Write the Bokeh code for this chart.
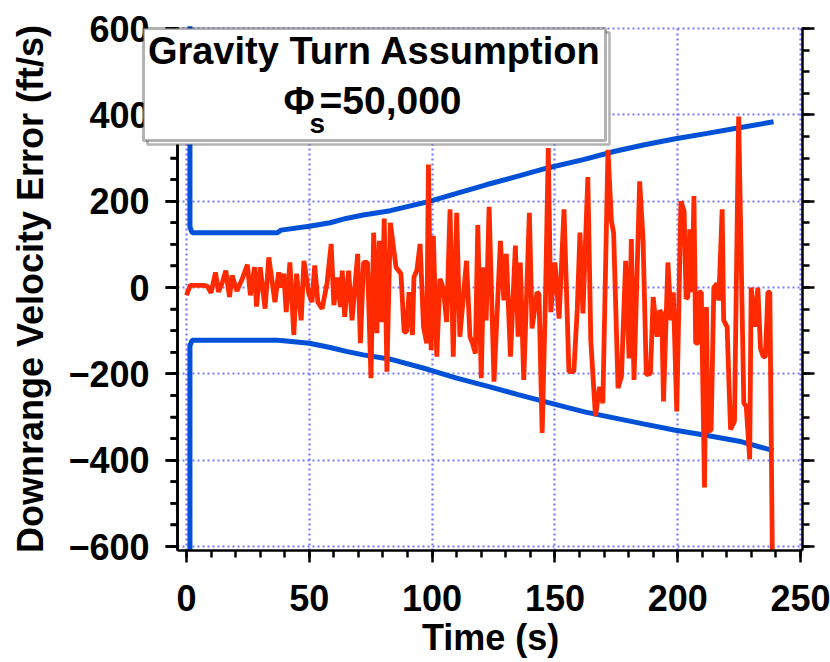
from bokeh.plotting import figure
from bokeh.models import Range1d, LinearAxis, FixedTicker, Label, BoxAnnotation, CustomJSTickFormatter
from bokeh.embed import file_html
from bokeh.resources import INLINE

# ---- data ----
x_ticks = [0, 50, 100, 150, 200, 250]
y_ticks = [-600, -400, -200, 0, 200, 400, 600]
y_minor = [v for v in range(-600, 601, 50) if v not in y_ticks]

time_upper = [1.4, 1.4, 2.3, 37, 38.5, 50, 58.5, 65, 72, 83, 98.5, 110, 122, 135, 147, 162, 174, 186, 198.5, 212, 225, 239]
upper = [605, 140, 127, 127, 133, 142, 150, 160, 168, 178, 199, 218, 238, 258, 277, 297, 315, 330, 344, 357, 370, 384]

time_lower = [1.4, 1.4, 2.3, 37, 38.5, 50, 58.5, 65, 72, 83, 98.5, 110, 122, 135, 147, 162, 174, 186, 198.5, 212, 225, 239]
lower = [-608, -135, -122, -122, -123, -129, -139, -148, -156, -166, -190, -210, -228, -248, -266, -288, -302, -316, -330, -343, -356, -378]

time_err = [0, 1.5, 3, 5, 7, 8.5, 10, 11.8, 13, 14.5, 16, 17.5, 18.6, 20.5, 22.7, 24.8, 26, 27.7, 28.5, 30,
            32, 33.5, 36, 37.5, 38.3, 39.6, 40.6, 42.1, 43.7, 44.8, 46.7, 47.8, 49.8, 51.1, 52.2, 53.5, 55.2, 57.2, 58.9, 60,
            61.3, 62.7, 63.4, 64.4, 66, 67.4, 69.7, 70.8, 72.1, 73.7, 75.1, 76.2, 77.5, 78.5, 79.6, 80.5, 81.6, 83, 85.3, 87.3,
            88.6, 89.6, 90.6, 92, 92.6, 93.8, 95.1, 96.5, 97.8, 98.5, 99.6, 100.5, 101.9, 103.2, 104.6, 105.9, 107.3, 108.6, 110, 111.3,
            114, 115.4, 116.5, 117.6, 118.6, 120, 121, 122, 123.2, 125.2, 127.8, 129.2, 130.2, 131.9, 133.9, 135, 135.9, 137.3, 139.6, 140.7,
            142.7, 143.5, 144.8, 146.2, 147.3, 148.3, 150, 151.7, 153.7, 155.7, 157.7, 159.1, 160.2, 161.4, 163.4, 164.6, 166.5, 168.2, 169.5, 171.6,
            173, 173.9, 175.7, 177.1, 178.8, 180.2, 181.1, 182.2, 184.5, 185.9, 187.2, 188.9, 190, 191.6, 192.7, 193.5, 194.2, 196, 197.3, 198.2,
            199.6, 201.3, 202.6, 203.4, 204.1, 204.9, 205.8, 206.6, 207.3, 208.3, 208.7, 209.6, 210.9, 211.7, 212.3, 213.6, 214.7, 216, 216.7, 218.1,
            218.7, 220.1, 221.5, 223.1, 224.8, 226.9, 227.9, 229.3, 229.9, 231.7, 232.6, 233.7, 234.8, 235.7, 236.7, 237.5, 238.5]
error = [-18, 5, 5, 5, 5, 3, -12, 35, -10, 10, 39, -22, 28, -8, 20, 53, -18, 47, -44, 47,
         -49, 70, -34, 35, 0, 32, -57, 58, -110, 32, -76, 62, -14, -34, 51, -34, -49, 9, 101, -41,
         23, -45, 39, -68, 39, -76, 78, -129, 58, 58, -210, 127, -106, 108, -80, 160, -195, 150, 47, 32,
         -103, -103, -11, -110, 24, 40, 101, -91, -129, 285, -145, 120, -160, 20, -3, -80, 181, -160, 173, -114,
         62, -114, -130, -153, 145, -210, 47, -76, 187, -218, 108, -30, 78, -160, 97, -114, 58, -214, 173, -95,
         -11, -15, -337, -11, 323, -57, 58, -72, 181, -195, -195, -49, 127, -60, 256, -122, -298, -230, -268, 319,
         154, 127, -233, -206, 62, -164, 112, -214, 246, 108, -202, -199, -22, -114, -53, -60, -264, 58, -76, -11,
         -287, 200, 177, -26, -22, 135, -11, 212, -129, -129, -11, -11, -463, -45, -333, -330, 0, 9, -30, 181,
         -76, -91, -329, -310, 396, -268, -275, -398, 0, -91, 0, -141, -160, -160, -11, -11, -607]

FONT = "Liberation Sans"
GRID = "#7878ff"
BLUE = "#0050d8"
RED = "#ff2a00"

# plot region: the frame covers the whole page, axes sit at fixed data positions
W, H = 830, 662
X_START, X_LEFT_AXIS, X_RIGHT_AXIS, X_END = -75.73, -3.66, 250.8, 262.2
Y_START, Y_BOTTOM_AXIS, Y_TOP, Y_END = -868.7, -609.3, 602.0, 664.9
PX_PER_X = W / (X_END - X_START)
MAJOR_OUT, MINOR_OUT = 12, 7

p = figure(width=W, height=H, x_range=Range1d(X_START, X_END), y_range=Range1d(Y_START, Y_END),
           output_backend="svg", toolbar_location=None,
           min_border_left=0, min_border_right=0, min_border_top=0, min_border_bottom=0,
           y_axis_label="Downrange Velocity Error (ft/s)")
p.outline_line_color = None
p.background_fill_color = "white"
p.border_fill_color = "white"

xt = FixedTicker(ticks=x_ticks, minor_ticks=list(range(0, 251, 10)))
yt = FixedTicker(ticks=y_ticks, minor_ticks=list(range(-600, 601, 50)))


def style_axis(ax):
    ax.axis_line_color = "black"
    ax.axis_line_width = 2.5
    ax.major_tick_line_width = 2.5
    ax.minor_tick_line_width = 2.5
    ax.major_tick_in = 0
    ax.major_tick_out = MAJOR_OUT
    ax.minor_tick_in = 0
    ax.minor_tick_out = MINOR_OUT
    ax.major_label_text_font = FONT
    ax.major_label_text_font_style = "bold"
    ax.major_label_text_font_size = "36px"
    ax.major_label_text_color = "black"
    ax.axis_label_text_font = FONT
    ax.axis_label_text_font_style = "bold"
    ax.axis_label_text_font_size = "36px"
    ax.axis_label_text_color = "black"


xa = p.xaxis[0]
ya = p.yaxis[0]
style_axis(xa)
style_axis(ya)
xa.ticker = xt
xa.fixed_location = Y_BOTTOM_AXIS
xa.bounds = (X_LEFT_AXIS, X_RIGHT_AXIS)
xa.major_label_standoff = 22
ya.ticker = yt
ya.fixed_location = X_LEFT_AXIS
ya.bounds = (Y_BOTTOM_AXIS, Y_TOP)
ya.major_label_standoff = 16
ya.axis_label_standoff = 14

right = LinearAxis(ticker=yt, formatter=CustomJSTickFormatter(code="return ''"))
style_axis(right)
right.fixed_location = X_RIGHT_AXIS
right.bounds = (Y_BOTTOM_AXIS, Y_TOP)
right.major_label_text_font_size = "1px"
p.add_layout(right, "right")

p.xgrid.ticker = xt
p.ygrid.ticker = yt
for g in (p.xgrid[0], p.ygrid[0]):
    g.grid_line_color = GRID
    g.grid_line_width = 2.2
    g.grid_line_dash = "2 3"
p.xgrid[0].bounds = (X_LEFT_AXIS, X_RIGHT_AXIS)
p.ygrid[0].bounds = (Y_BOTTOM_AXIS, Y_TOP)
p.xgrid[0].cross_bounds = (Y_BOTTOM_AXIS, Y_TOP)
p.ygrid[0].cross_bounds = (X_LEFT_AXIS, X_RIGHT_AXIS)

# left rule and its outward ticks (same place as the labelled y axis)
p.segment(x0=[X_LEFT_AXIS] * len(y_ticks), y0=y_ticks,
          x1=[X_LEFT_AXIS - MAJOR_OUT / PX_PER_X] * len(y_ticks), y1=y_ticks,
          line_color="black", line_width=2.5)
p.segment(x0=[X_LEFT_AXIS] * len(y_minor), y0=y_minor,
          x1=[X_LEFT_AXIS - MINOR_OUT / PX_PER_X] * len(y_minor), y1=y_minor,
          line_color="black", line_width=2.5)
rule = BoxAnnotation(left=X_LEFT_AXIS - 1.3 / PX_PER_X, right=X_LEFT_AXIS + 1.3 / PX_PER_X,
                     bottom=Y_BOTTOM_AXIS, top=Y_TOP, fill_color="black", fill_alpha=1, line_color=None)
p.add_layout(rule)

p.line(time_upper, upper, line_color=BLUE, line_width=5)
p.line(time_lower, lower, line_color=BLUE, line_width=5)
p.line(time_err, error, line_color=RED, line_width=4.8)

# x-axis title, centred under the axis span
p.add_layout(Label(x=(x_ticks[0] + x_ticks[-1]) / 2 - 1.2, y=25, x_units="data", y_units="screen",
                   text="Time (s)", text_align="center", text_baseline="alphabetic",
                   text_font=FONT, text_font_style="bold", text_font_size="36px", text_color="black"))

# title box (frame-relative screen units)
shadow = BoxAnnotation(left=147, right=609, top=630, bottom=518,
                       left_units="screen", right_units="screen", top_units="screen", bottom_units="screen",
                       fill_color="white", fill_alpha=1, line_color="black", line_width=2.5)
box = BoxAnnotation(left=143, right=605, top=634, bottom=522,
                    left_units="screen", right_units="screen", top_units="screen", bottom_units="screen",
                    fill_color="white", fill_alpha=1, line_color="black", line_width=3)
p.add_layout(shadow)
p.add_layout(box)

common = dict(x_units="screen", y_units="screen", text_font=FONT, text_font_style="bold",
              text_color="black", text_baseline="alphabetic")
p.add_layout(Label(x=374, y=612, text="Gravity Turn Assumption", text_align="center",
                   text_font_size="38px", **common))
p.add_layout(Label(x=283, y=562, text="Φ", text_align="left", text_font_size="38px", **common))
p.add_layout(Label(x=309, y=539, text="s", text_align="left", text_font_size="28px", **common))
p.add_layout(Label(x=319, y=562, text="=50,000", text_align="left", text_font_size="39px", **common))

open("out.html", "w").write(file_html(p, INLINE))
